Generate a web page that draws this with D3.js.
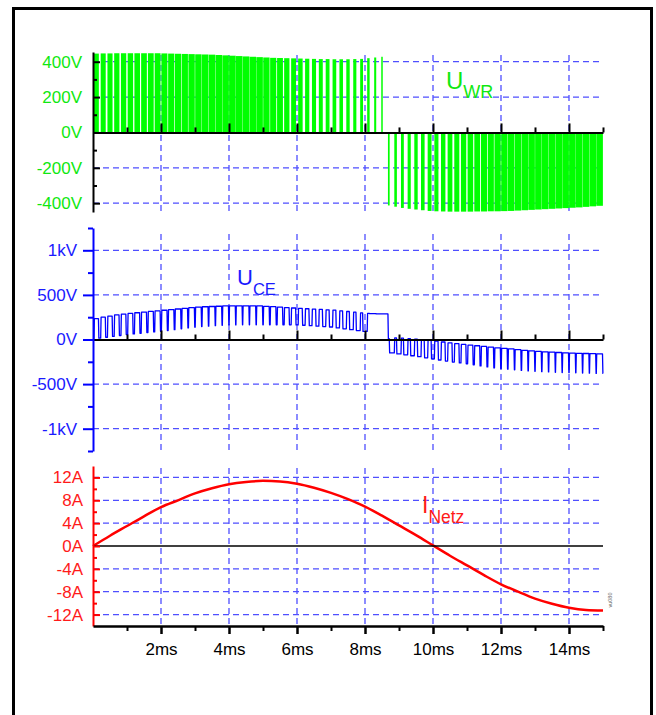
<!DOCTYPE html>
<html>
<head>
<meta charset="utf-8">
<style>
body { margin: 0; background: #fff; }
svg text { font-family: "Liberation Sans", Arial, sans-serif; }
</style>
</head>
<body>
<script src="https://cdnjs.cloudflare.com/ajax/libs/d3/7.8.5/d3.min.js"></script>
<script>

const width = 656;
const height = 715;

// time axis (ms)
const msTicks = [2, 4, 6, 8, 10, 12, 14];
const msMinor = [1, 3, 5, 7, 9, 11, 13, 15];

// y ticks of the three panels
const wrTicks = [-400, -200, 0, 200, 400];
const wrMinor = [-300, -100, 100, 300];
const ceTicks = [-1000, -500, 0, 500, 1000];
const ceMinor = [-1250, -750, -250, 250, 750, 1250];
const iTicks = [-12, -8, -4, 0, 4, 8, 12];
const iMinor = [-10, -6, -2, 2, 6, 10];

// switching period of the inverter, ms
const period = 0.2;

// duty of each PWM pulse (one per switching period)
const wrDuty = [
  0.72, 0.74, 0.75, 0.77, 0.78, 0.80, 0.82, 0.84, 0.85, 0.86,
  0.88, 0.90, 0.91, 0.92, 0.93, 0.94, 0.95, 0.95, 0.96, 0.96,
  0.97, 0.97, 0.97, 0.96, 0.96, 0.93, 0.90, 0.86, 0.78, 0.72,
  0.66, 0.62, 0.60, 0.58, 0.56, 0.54, 0.52, 0.50, 0.46, 0.42,
  0.36, 0.30, 0.22,
  0.25, 0.38, 0.42, 0.46, 0.50, 0.53, 0.57,
  0.60, 0.65, 0.70, 0.74, 0.78, 0.82, 0.85, 0.88, 0.90, 0.92,
  0.93, 0.94, 0.95, 0.95, 0.96, 0.96, 0.96, 0.97, 0.97, 0.97,
  0.97, 0.97, 0.97, 0.97, 0.97
];

// pulse height of U_WR, V
const wrAmp = [
  446, 447, 447, 448, 448, 448, 448, 448, 448, 448,
  447, 446, 445, 444, 443, 442, 441, 440, 438, 436,
  434, 432, 430, 428, 426, 424, 422, 421, 420, 419,
  418, 417, 416, 415, 415, 414, 414, 414, 415, 416,
  420, 424, 428,
  -413, -420, -427, -432, -436, -440, -444,
  -446, -447, -448, -448, -448, -448, -447, -447, -446, -446,
  -445, -444, -442, -440, -438, -436, -434, -432, -430, -428,
  -426, -424, -421, -418, -415
];

// U_CE level while the pulse is on, V
const ceTop = [
  235, 250, 262, 275, 285, 292, 300, 308, 315, 322,
  328, 335, 342, 350, 358, 363, 367, 370, 373, 376,
  377, 378, 378, 377, 376, 372, 368, 363, 358, 353,
  349, 345, 341, 337, 333, 330, 322, 314, 306, 298,
  292, 290, 287,
  10, 18, 15, 10, 5, -2, -8,
  -18, -28, -38, -47, -55, -62, -70, -78, -86, -93,
  -99, -106, -114, -121, -128, -134, -138, -142, -146, -149,
  -152, -155, -157, -159, -161
];

// U_CE level in the gap before each pulse, V
const ceBottom = [
  10, 15, 25, 35, 45, 55, 62, 70, 78, 85,
  92, 100, 110, 120, 130, 138, 145, 150, 155, 160,
  163, 164, 165, 165, 165, 165, 165, 165, 165, 165,
  164, 160, 155, 150, 145, 140, 130, 120, 110, 100,
  90, 290, 287,
  287, -150, -162, -172, -182, -192, -205,
  -218, -230, -242, -253, -262, -272, -284, -296, -308, -318,
  -326, -333, -340, -346, -352, -357, -361, -364, -367, -370,
  -372, -374, -376, -378, -380
];

// mains current I_Netz
const curT = [0, 0.5, 1, 1.5, 2, 2.5, 3, 3.5, 4, 4.5, 5, 5.5, 6, 6.5, 7, 7.5,
              8, 8.5, 9, 9.5, 10, 10.5, 11, 11.5, 12, 12.5, 13, 13.5, 14, 14.5, 15];
const curA = [0, 1.8, 3.5, 5.2, 6.8, 8.0, 9.2, 10.1, 10.8, 11.2, 11.4, 11.3, 10.9, 10.2, 9.3, 8.2,
              6.9, 5.3, 3.6, 1.9, 0.1, -1.7, -3.4, -5.1, -6.7, -8.0, -9.2, -10.1, -10.8, -11.2, -11.3];

const green = '#00ff00';
const greenText = '#10e810';
const blue = '#0000ff';
const blueText = '#1a1aff';
const red = '#ff0000';
const redText = '#ff1a1a';
const gridColor = '#4f4fff';
const fontSize = 17;

const svg = d3.select('body')
              .append('svg')
              .attr('width', width)
              .attr('height', height);

// outer frame
svg.append('rect')
   .attr('x', 13.5).attr('y', 8.5)
   .attr('width', 638).attr('height', 720)
   .attr('fill', 'none').attr('stroke', '#000').attr('stroke-width', 3);

const x = d3.scaleLinear().domain([0, 15]).range([93, 603]);
const yWR = d3.scaleLinear().domain([-450, 455]).range([212, 52]);
const yCE = d3.scaleLinear().domain([-1250, 1250]).range([451, 228]);
const yI = d3.scaleLinear().domain([-14, 14]).range([626, 466]);

function grid(y, values, top, bottom) {
  const g = svg.append('g')
    .attr('stroke', gridColor)
    .attr('stroke-width', 1.3)
    .attr('stroke-dasharray', '6,4');
  g.selectAll('.h')
    .data(values.filter(v => v !== 0))
    .enter().append('line')
    .attr('x1', x(0)).attr('x2', x(15))
    .attr('y1', d => y(d)).attr('y2', d => y(d));
  g.selectAll('.v')
    .data(msTicks)
    .enter().append('line')
    .attr('x1', d => x(d)).attr('x2', d => x(d))
    .attr('y1', top).attr('y2', bottom);
}

grid(yWR, wrTicks, 55, 212);
grid(yCE, ceTicks, 234, 451);
grid(yI, iTicks, 468, 626);

// ---- U_WR pulses
const pulses = wrDuty.map((d, k) => ({
  t0: (k + 0.5) * period - d * period / 2,
  t1: (k + 0.5) * period + d * period / 2,
  amp: wrAmp[k],
  top: ceTop[k],
  gap: ceBottom[k]
}));

svg.append('g').selectAll('rect')
  .data(pulses)
  .enter().append('rect')
  .attr('x', p => x(p.t0))
  .attr('width', p => x(p.t1) - x(p.t0))
  .attr('y', p => Math.min(yWR(p.amp), yWR(0)))
  .attr('height', p => Math.abs(yWR(p.amp) - yWR(0)))
  .attr('fill', green);

// ---- U_CE trace
const edge = 0.012;
const cePts = [[0, ceBottom[0]]];
pulses.forEach((p, k) => {
  const next = k + 1 < pulses.length ? pulses[k + 1].gap : p.gap;
  cePts.push([p.t0, p.gap], [p.t0 + edge, p.top], [p.t1 - edge, p.top], [p.t1, next]);
});
cePts.push([15, pulses[pulses.length - 1].gap]);

svg.append('path')
  .datum(cePts)
  .attr('fill', 'none')
  .attr('stroke', blue)
  .attr('stroke-width', 1.3)
  .attr('stroke-linejoin', 'round')
  .attr('d', d3.line().x(d => x(d[0])).y(d => yCE(d[1])));

// ---- I_Netz
svg.append('path')
  .datum(curT.map((t, i) => [t, curA[i]]))
  .attr('fill', 'none')
  .attr('stroke', red)
  .attr('stroke-width', 2.5)
  .attr('d', d3.line().x(d => x(d[0])).y(d => yI(d[1])).curve(d3.curveMonotoneX));

// zero line of the current panel
svg.append('line')
  .attr('x1', x(0)).attr('x2', x(15))
  .attr('y1', yI(0)).attr('y2', yI(0))
  .attr('stroke', '#000').attr('stroke-width', 1.5);

// ---- axes
function style(g, color, textColor) {
  g.attr('color', color)
   .attr('font-size', fontSize)
   .attr('font-family', '"Liberation Sans", Arial, sans-serif');
  g.selectAll('path, line').attr('stroke-width', 2);
  g.selectAll('text').attr('fill', textColor || color);
  return g;
}

function zeroAxis(y) {
  const g1 = svg.append('g').attr('transform', `translate(0,${y(0)})`)
    .call(d3.axisTop(x).tickValues(msTicks).tickSize(9).tickSizeOuter(0).tickFormat(''));
  style(g1, '#000');
  const g2 = svg.append('g').attr('transform', `translate(0,${y(0)})`)
    .call(d3.axisTop(x).tickValues(msMinor).tickSize(5).tickFormat(''));
  g2.select('.domain').remove();
  style(g2, '#000');
}

zeroAxis(yWR);
zeroAxis(yCE);

// U_WR axis: black ticks inside, green labels
const aWR = svg.append('g').attr('transform', `translate(${x(0)},0)`)
  .call(d3.axisLeft(yWR).tickValues(wrTicks).tickSizeInner(-7).tickSizeOuter(0)
        .tickPadding(11).tickFormat(d => d + 'V'));
style(aWR, '#000', greenText);
const mWR = svg.append('g').attr('transform', `translate(${x(0)},0)`)
  .call(d3.axisLeft(yWR).tickValues(wrMinor).tickSize(-4).tickFormat(''));
mWR.select('.domain').remove();
style(mWR, '#000');

// U_CE axis: blue, ticks outside
const aCE = svg.append('g').attr('transform', `translate(${x(0)},0)`)
  .call(d3.axisLeft(yCE).tickValues(ceTicks).tickSizeInner(10).tickSizeOuter(0)
        .tickPadding(6).tickFormat(d => Math.abs(d) >= 1000 ? (d / 1000) + 'kV' : d + 'V'));
style(aCE, blue, blueText);
const mCE = svg.append('g').attr('transform', `translate(${x(0)},0)`)
  .call(d3.axisLeft(yCE).tickValues(ceMinor).tickSize(5).tickFormat(''));
mCE.select('.domain').remove();
style(mCE, blue);

// I_Netz axis: red, ticks inside
const aI = svg.append('g').attr('transform', `translate(${x(0)},0)`)
  .call(d3.axisLeft(yI).tickValues(iTicks).tickSizeInner(-7).tickSizeOuter(0)
        .tickPadding(10).tickFormat(d => d + 'A'));
style(aI, red, redText);
const mI = svg.append('g').attr('transform', `translate(${x(0)},0)`)
  .call(d3.axisLeft(yI).tickValues(iMinor).tickSize(-4).tickFormat(''));
mI.select('.domain').remove();
style(mI, red);

// time axis at the bottom
const aX = svg.append('g').attr('transform', `translate(0,${yI.range()[0]})`)
  .call(d3.axisBottom(x).tickValues(msTicks).tickSize(8).tickSizeOuter(0)
        .tickPadding(9).tickFormat(d => d + 'ms'));
style(aX, '#000');
aX.selectAll('path, line').attr('stroke-width', 2.5);
const mX = svg.append('g').attr('transform', `translate(0,${yI.range()[0]})`)
  .call(d3.axisBottom(x).tickValues(msMinor).tickSize(5).tickFormat(''));
mX.select('.domain').remove();
style(mX, '#000');

// ---- trace names
function traceLabel(xp, yp, main, sub, mainSize, subSize, dy, color) {
  const t = svg.append('text')
    .attr('x', xp).attr('y', yp)
    .attr('fill', color)
    .attr('font-size', mainSize)
    .text(main);
  t.append('tspan')
    .attr('dy', dy)
    .attr('font-size', subSize)
    .text(sub);
}

traceLabel(446, 89, 'U', 'WR', 24, 18, 9, greenText);
traceLabel(237, 285, 'U', 'CE', 22, 16.5, 10, blueText);
traceLabel(422, 513, 'I', 'Netz', 23, 17.5, 10, redText);

svg.append('text')
  .attr('transform', 'translate(612,600) rotate(-90)')
  .attr('text-anchor', 'middle')
  .attr('font-size', 5.5)
  .attr('fill', '#666')
  .text('vu080');

</script>
</body>
</html>
